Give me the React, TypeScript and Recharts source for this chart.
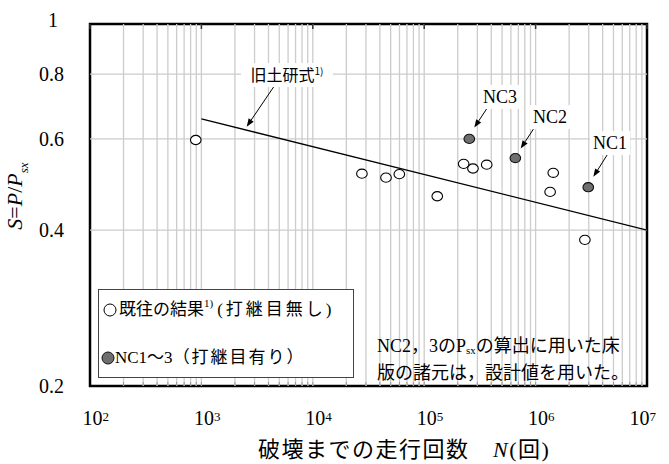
import {
  ComposedChart,
  Scatter,
  XAxis,
  YAxis,
  ReferenceLine,
  ReferenceDot,
  ReferenceArea,
  Legend,
} from "recharts";

const SERIF = "'Liberation Serif', 'Times New Roman', serif";
const SERIF_JP = "'Liberation Serif', 'Times New Roman', 'Noto Sans CJK JP', serif";
const GOTHIC = "'Noto Sans CJK JP', 'Noto Sans', sans-serif";

// past results (no construction joint)
const openN = [890, 27600, 45400, 59800, 131000, 226000, 274000, 364000, 1350000, 1440000, 2770000];
const openS = [0.597, 0.514, 0.505, 0.513, 0.465, 0.537, 0.526, 0.535, 0.474, 0.516, 0.383];

// NC1-3 (with construction joint)
const ncNames = ["NC1", "NC2", "NC3"];
const ncN = [2970000, 658000, 254000];
const ncS = [0.484, 0.551, 0.6];

// old PWRI formula
const formulaN = [1000, 10000000];
const formulaS = [0.656, 0.4];

const xTicks = [1e2, 1e3, 1e4, 1e5, 1e6, 1e7];
const yTicks = [0.2, 0.4, 0.6, 0.8, 1];
const yGrid = [0.4, 0.6, 0.8];

// minor log grid lines
const xGrid: number[] = [];
for (let k = 2; k <= 6; k++) {
  for (let m = 1; m <= 9; m++) {
    if (k === 2 && m === 1) continue;
    xGrid.push(m * Math.pow(10, k));
  }
}

const openData = openN.map((n, i) => ({ n, s: openS[i] }));
const ncData = ncN.map((n, i) => ({ n, s: ncS[i], name: ncNames[i] }));
const formulaData = formulaN.map((n, i) => ({ n, s: formulaS[i] }));

// annotation anchors (data coords)
const notes = [
  { text: "旧土研式", sup: "1)", at: [5860, 0.797], from: [4579, 0.7627], to: [2550, 0.6335], w: 92, font: GOTHIC, size: 16 },
  { text: "NC3", sup: "", at: [479000, 0.723], from: [384000, 0.698], to: [281700, 0.631], w: 40, font: SERIF, size: 18 },
  { text: "NC2", sup: "", at: [1346000, 0.661], from: [1000000, 0.636], to: [735000, 0.575], w: 40, font: SERIF, size: 18 },
  { text: "NC1", sup: "", at: [4660000, 0.589], from: [4490000, 0.563], to: [3300000, 0.507], w: 40, font: SERIF, size: 18 },
];

// white box behind the footnote text (data coords)
const noteBox = { x1: 29400, x2: 10000000, y1: 0.2, y2: 0.2588 };

const PLOT_BOTTOM = 386;
const GRID = "#cccccc";

const OpenDot = (p: any) => (
  <ellipse cx={p.cx} cy={p.cy} rx={5.3} ry={4.6} fill="#fff" stroke="#000" strokeWidth={1.1} />
);
const FilledDot = (p: any) => (
  <ellipse cx={p.cx} cy={p.cy} rx={5.3} ry={4.6} fill="#6e6e6e" stroke="#111" strokeWidth={1.1} />
);
const NoDot = () => <g />;

const XTick = (p: any) => {
  const exp = Math.round(Math.log10(p.payload.value));
  return (
    <text x={p.x - 7.5} y={PLOT_BOTTOM + 39} fontSize={20} style={{ fontFamily: SERIF }} fill="#000">
      10
      <tspan dy={-4} fontSize={13}>
        {exp}
      </tspan>
    </text>
  );
};

const YTick = (p: any) => {
  const v = p.payload.value;
  const one = v === 1;
  return (
    <text x={one ? 58 : 64} y={p.y + (one ? 3 : 7)} textAnchor="end" fontSize={20} style={{ fontFamily: SERIF }} fill="#000">
      {one ? "1" : v.toFixed(1)}
    </text>
  );
};

const arrowShape = (p: any) => {
  const { x1, y1, x2, y2 } = p;
  const a = Math.atan2(y2 - y1, x2 - x1);
  const L = 8;
  const hw = 3;
  const bx = x2 - L * Math.cos(a);
  const by = y2 - L * Math.sin(a);
  const px = -Math.sin(a) * hw;
  const py = Math.cos(a) * hw;
  return (
    <g>
      <line x1={x1} y1={y1} x2={bx} y2={by} stroke="#000" strokeWidth={1} />
      <polygon points={`${x2},${y2} ${bx + px},${by + py} ${bx - px},${by - py}`} fill="#000" />
    </g>
  );
};

const topTick = (p: any) => (
  <line x1={p.x1} y1={p.y1} x2={p.x1} y2={p.y1 + 5} stroke="#333" strokeWidth={1.5} />
);
const bottomTick = (p: any) => (
  <line x1={p.x1} y1={p.y1} x2={p.x1} y2={p.y1 - 4} stroke="#999" strokeWidth={1} />
);

const labelShape = (note: any) => (p: any) => (
  <g>
    <rect x={p.cx - note.w / 2} y={p.cy - 12} width={note.w} height={24} fill="#fff" />
    <text x={p.cx} y={p.cy + 6} textAnchor="middle" fontSize={note.size} style={{ fontFamily: note.font }} fill="#000">
      {note.text}
      {note.sup && (
        <tspan dy={-6} fontSize={10}>
          {note.sup}
        </tspan>
      )}
    </text>
  </g>
);

const renderLegend = () => (
  <div
    style={{
      width: 256,
      height: 89,
      boxSizing: "border-box",
      border: "1px solid #444",
      background: "#fff",
      position: "relative",
      fontFamily: SERIF_JP,
      fontSize: 17,
      color: "#000",
    }}
  >
    <div style={{ position: "absolute", left: 3, top: 8, whiteSpace: "nowrap", lineHeight: "24px", display: "flex", alignItems: "center" }}>
      <svg width={16} height={16} style={{ marginRight: 1 }}>
        <circle cx={8} cy={8} r={6} fill="#fff" stroke="#000" strokeWidth={1} />
      </svg>
      <span>既往の結果</span>
      <span style={{ fontSize: 11, position: "relative", top: -7 }}>1)</span>
      <span style={{ letterSpacing: 3, marginLeft: 4 }}>(打継目無し)</span>
    </div>
    <div style={{ position: "absolute", left: 2, top: 56, whiteSpace: "nowrap", lineHeight: "24px", display: "flex", alignItems: "center" }}>
      <svg width={14} height={16}>
        <circle cx={7} cy={8} r={6} fill="#6e6e6e" stroke="#111" strokeWidth={1} />
      </svg>
      <span>NC1～3</span>
      <span style={{ letterSpacing: 2 }}>（打継目有り）</span>
    </div>
  </div>
);

export default function App() {
  return (
    <div style={{ position: "absolute", left: 0, top: 0, width: 669, height: 464, background: "#fff" }}>
      <ComposedChart width={669} height={464} margin={{ top: 24, right: 22, left: 0, bottom: 0 }}>
        <XAxis
          dataKey="n"
          type="number"
          scale="log"
          domain={[100, 10000000]}
          allowDataOverflow
          ticks={xTicks}
          tick={<XTick />}
          height={78}
          axisLine={false}
          tickLine={false}
        />
        <YAxis
          dataKey="s"
          type="number"
          scale="log"
          domain={[0.2, 1]}
          allowDataOverflow
          ticks={yTicks}
          tick={<YTick />}
          width={90}
          axisLine={false}
          tickLine={false}
        />
        {xGrid.map((v) => (
          <ReferenceLine key={"gx" + v} x={v} stroke={GRID} strokeWidth={1.3} />
        ))}
        {yGrid.map((v) => (
          <ReferenceLine key={"gy" + v} y={v} stroke={GRID} strokeWidth={1.3} />
        ))}
        <ReferenceArea {...noteBox} fill="#fff" fillOpacity={1} stroke="none" />
        {xGrid.map((v) => (
          <ReferenceLine key={"bt" + v} segment={[{ x: v, y: 0.2 }, { x: v, y: 0.201 }]} shape={bottomTick} />
        ))}
        {xTicks.map((v) => (
          <ReferenceLine key={"tt" + v} segment={[{ x: v, y: 1 }, { x: v, y: 0.99 }]} shape={topTick} />
        ))}
        <ReferenceArea x1={100} x2={10000000} y1={0.2} y2={1} fill="none" stroke="#000" strokeWidth={2.5} />
        <Scatter
          data={formulaData}
          line={{ stroke: "#000", strokeWidth: 1.3 }}
          lineType="joint"
          shape={NoDot}
          isAnimationActive={false}
        />
        <Scatter data={openData} shape={OpenDot} isAnimationActive={false} />
        <Scatter data={ncData} shape={FilledDot} isAnimationActive={false} />
        {notes.map((nt, i) => (
          <ReferenceLine
            key={"a" + i}
            segment={[
              { x: nt.from[0], y: nt.from[1] },
              { x: nt.to[0], y: nt.to[1] },
            ]}
            shape={arrowShape}
          />
        ))}
        {notes.map((nt, i) => (
          <ReferenceDot key={"l" + i} x={nt.at[0]} y={nt.at[1]} r={0} shape={labelShape(nt)} />
        ))}
        <Legend
          layout="vertical"
          align="center"
          verticalAlign="middle"
          content={renderLegend}
          wrapperStyle={{ left: 98, top: 289, width: 256, height: 89 }}
        />
      </ComposedChart>

      <div
        style={{
          position: "absolute",
          left: 365,
          top: 328,
          width: 280,
          height: 56,
          fontFamily: SERIF_JP,
          fontSize: 18,
          lineHeight: "27px",
          color: "#000",
          whiteSpace: "nowrap",
        }}
      >
        <div style={{ position: "absolute", left: 12, top: 5 }}>
          NC2，3の<span>P</span>
          <sub style={{ fontSize: 11, verticalAlign: "-2px" }}>sx</sub>の算出に用いた床
        </div>
        <div style={{ position: "absolute", left: 12, top: 32 }}>版の諸元は，設計値を用いた。</div>
      </div>

      <div
        style={{
          position: "absolute",
          left: 258,
          top: 437,
          fontFamily: SERIF_JP,
          fontSize: 22,
          lineHeight: "26px",
          letterSpacing: 1.5,
          whiteSpace: "nowrap",
          color: "#000",
        }}
      >
        破壊までの走行回数　<i>N</i>(回)
      </div>

      <div
        style={{
          position: "absolute",
          left: 17,
          top: 196,
          transform: "translate(-50%, -50%) rotate(-90deg)",
          fontFamily: SERIF,
          fontSize: 22,
          whiteSpace: "nowrap",
          color: "#000",
        }}
      >
        <i>S</i>=<i>P</i>/<i>P</i>
        <sub style={{ fontSize: 13 }}>
          <i>sx</i>
        </sub>
      </div>
    </div>
  );
}
